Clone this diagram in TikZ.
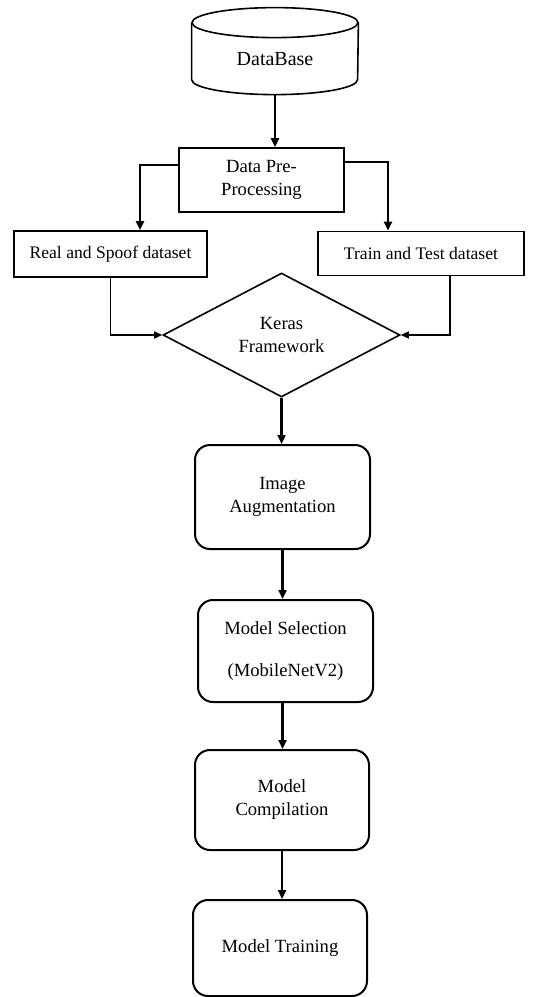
\documentclass[tikz,border=0pt]{standalone}
\usepackage{fontspec}
\setmainfont{Liberation Serif}
\usetikzlibrary{arrows.meta, shapes.geometric, positioning, calc}

\begin{document}
\begin{tikzpicture}[x=0.5pt, y=-0.5pt,
		txt/.style={font=\fontsize{9.3}{11.5}\selectfont, align=center, inner sep=0pt},
		plainbox/.style={txt, draw, line width=0.9pt},
		roundbox/.style={txt, draw, line width=1pt, rounded corners=7.5pt, minimum width=87.5pt},
		decision/.style={txt, draw, diamond, line width=0.8pt, minimum width=118.5pt, minimum height=62pt, aspect=1.9},
		flow/.style={-{Triangle[length=4.5pt,width=4pt]}, line width=1.4pt},
		feed/.style={-{Triangle[length=4pt,width=3.5pt]}, line width=0.7pt}]
				\useasboundingbox (0,0) rectangle (560,997);
				
				% Database
				\node[txt, font=\fontsize{10}{12}\selectfont, minimum width=83pt, minimum height=36pt] (db) at (275,59) {DataBase};
				\draw[line width=0.8pt] (db.north west) -- ++(0,57) arc[start angle=180, end angle=0, x radius=83, y radius=15] -- (db.north east);
				\draw[line width=0.8pt] (db.north) ellipse[x radius=83, y radius=15];
				
				% Boxes
				\node[plainbox, minimum width=82.5pt, minimum height=32pt] (prep) at (261.5,180) {Data Pre-\\Processing};
				\node[plainbox, font=\fontsize{8.8}{11}\selectfont, minimum width=96.5pt, minimum height=23pt] (real) at (110.5,254) {Real and Spoof dataset};
				\node[plainbox, font=\fontsize{8.8}{11}\selectfont, minimum width=103pt, minimum height=22pt] (trainset) at (421,253.5) {Train and Test dataset};
				\node[decision] (keras) at (281.5,335) {Keras\\Framework};
				\node[roundbox, minimum height=52pt] (aug) at (282.5,497) {Image\\Augmentation};
				\node[roundbox, minimum height=51pt] (select) at (285.5,651) {Model Selection\\[9.5pt](MobileNetV2)};
				\node[roundbox, minimum width=87pt, minimum height=50pt] (compile) at (282,800) {Model\\Compilation};
				\node[roundbox, minimum width=87pt, minimum height=48pt] (fit) at (280,948) {Model Training};
				
				% Arrows
				\draw[flow] (db.south) -- (db.south |- prep.north);
				\draw[flow] ([yshift=7.5pt]prep.west) -| ([xshift=14.75pt]real.north);
				\draw[flow] ([yshift=9pt]prep.east) -| ([xshift=-16.5pt]trainset.north);
				\draw[feed] (real.south) |- (keras.west);
				\draw[feed] ([xshift=14.5pt]trainset.south) |- (keras.east);
				\draw[flow] (keras.south) -- (keras.south |- aug.north);
				\draw[flow] (aug.south) -- (aug.south |- select.north);
				\draw[flow] ([xshift=-1.5pt]select.south) -- ([xshift=-1.5pt]select.south |- compile.north);
				\draw[flow] (compile.south) -- (compile.south |- fit.north);
				
			\end{tikzpicture}
\end{document}
